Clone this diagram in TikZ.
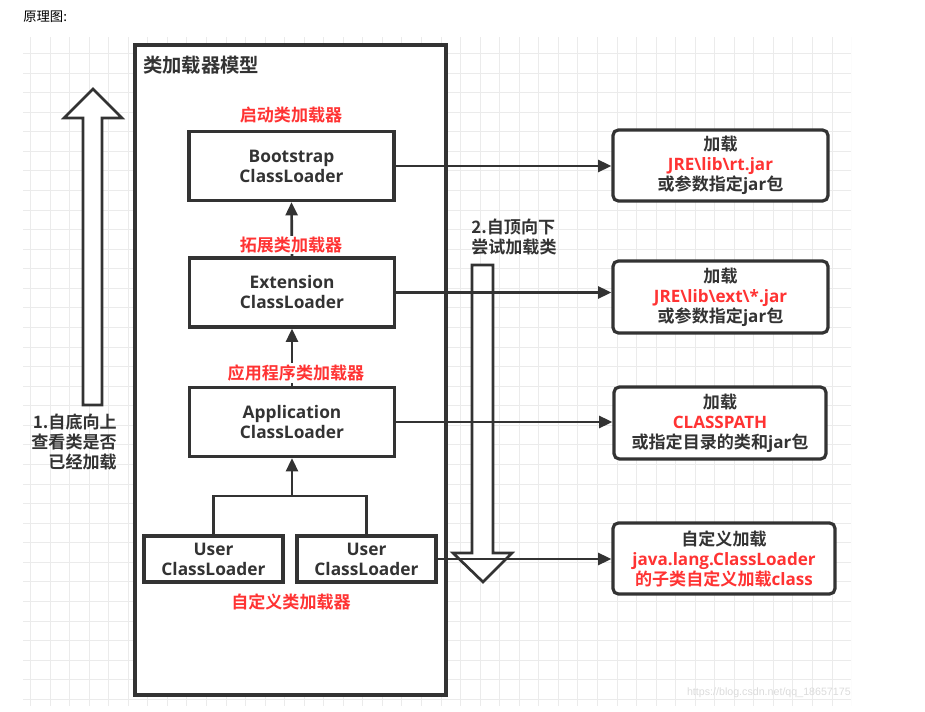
\documentclass[tikz,border=0pt]{standalone}
\usepackage{fontspec}
\usepackage{tikz}
\usetikzlibrary{arrows.meta}
\setmainfont{Open Sans}
\newfontfamily\cjk{Noto Sans CJK SC}[BoldFont={Noto Sans CJK SC Bold}]
\newfontfamily\wmfont{Liberation Sans}
\definecolor{dk}{HTML}{333333}
\definecolor{rd}{HTML}{FF3333}
\definecolor{gridc}{HTML}{EBEBEB}
\def\px{0.75pt}

\begin{document}
\begin{tikzpicture}[x=0.75pt,y=-0.75pt,
	loader/.style={draw=dk,line width=2.4pt,fill=white,text=dk,align=center,inner sep=0pt,
		minimum width=205*\px,minimum height=69*\px,font=\fontsize{13}{15}\selectfont\bfseries},
	jarbox/.style={draw=dk,line width=2.4pt,fill=white,rounded corners=4pt,text=dk,align=center,
		inner sep=0pt,minimum width=215*\px,minimum height=71*\px,font=\fontsize{12.8}{15}\selectfont\bfseries},
	tag/.style={text=rd,fill=white,inner sep=1pt,font=\fontsize{12.8}{15}\selectfont\bfseries\cjk},
	note/.style={text=dk,inner sep=0pt,font=\fontsize{12.8}{15}\selectfont\bfseries\cjk},
	link/.style={draw=dk,line width=2pt,-{Triangle[length=10pt,width=9pt]}},
	tie/.style={draw=dk,line width=2pt},
	hollow/.style={draw=dk,line width=2pt,fill=white,line join=miter}]
	\useasboundingbox (0,0) rectangle (925,712);
	
	%GRID
	\begin{scope}
		\clip (23,37) rectangle (851,706);
		\foreach \i in {0,...,42}
			\draw[gridc,line width=0.75pt] (30.5+19.55*\i,37)--++(0,669);
		\foreach \j in {0,...,33}
			\draw[gridc,line width=0.75pt] (23,53.5+19.57*\j)--++(828,0);
	\end{scope}
	\node[anchor=west,inner sep=0pt,font=\fontsize{10}{12}\selectfont\cjk] (caption) at (23,17) {原理图:};
	\node[anchor=east,inner sep=0pt,text=black!14,font=\wmfont\fontsize{8}{10}\selectfont] (mark) at (851,693) {https://blog.csdn.net/qq\_18657175};
	
	%MODEL BOX
	\node[draw=dk,line width=2.4pt,fill=white,inner sep=0pt,minimum width=311*\px,minimum height=650*\px] (model) at (290.5,370) {};
	\node[anchor=west,inner sep=0pt,text=dk,font=\fontsize{14.5}{17}\selectfont\bfseries\cjk] (title) at (143,65) {类加载器模型};
	
	%HOLLOW ARROWS
	\draw[hollow] (83,405)--(83,118)--(64,118)--(93,89)--(122,118)--(102,118)--(102,405)--cycle; %up
	\draw[hollow] (472,265)--(472,553)--(453,553)--(483,582)--(512,553)--(493,553)--(493,265)--cycle; %down
	\node[note,align=right,anchor=east] (upnote) at (117,442) {1.自底向上\\查看类是否\\已经加载};
	\node[note,align=left,anchor=west] (downnote) at (471,237) {2.自顶向下\\尝试加载类};
	
	%LOADERS
	\node[loader] (boot) at (291.5,166) {Bootstrap\\ClassLoader};
	\node[loader] (ext) at (292,292.5) {Extension\\ClassLoader};
	\node[loader] (app) at (292,422) {Application\\ClassLoader};
	\node[loader,minimum width=139*\px,minimum height=46*\px] (user1) at (213.5,559) {User\\ClassLoader};
	\node[loader,minimum width=139*\px,minimum height=46*\px] (user2) at (366.5,559) {User\\ClassLoader};
	
	\coordinate (fork) at (292,496);
	\draw[tie] (user1.north) |- (fork) -| (user2.north);
	\draw[link] (fork) -- (app.south);
	\draw[link] (app.north) -- (ext.south);
	\draw[link] (ext.north) -- (boot.south);
	
	\node[tag] (boottag) at (291,115) {启动类加载器};
	\node[tag] (exttag) at (291,245) {拓展类加载器};
	\node[tag] (apptag) at (296,373) {应用程序类加载器};
	\node[tag] (usertag) at (291,602) {自定义类加载器};
	
	%JAR BOXES
	\node[jarbox] (jar1) at (720.5,165.5) {{\cjk 加载}\\{\color{rd}JRE\textbackslash lib\textbackslash rt.jar}\\{\cjk 或参数指定}jar{\cjk 包}};
	\node[jarbox,minimum height=72*\px] (jar2) at (720.5,297) {{\cjk 加载}\\{\color{rd}JRE\textbackslash lib\textbackslash ext\textbackslash *.jar}\\{\cjk 或参数指定}jar{\cjk 包}};
	\node[jarbox,minimum width=212*\px,minimum height=72*\px] (jar3) at (720,423) {{\cjk 加载}\\{\color{rd}CLASSPATH}\\{\cjk 或指定目录的类和}jar{\cjk 包}};
	\node[jarbox,minimum width=222*\px] (jar4) at (724,558.5) {{\cjk 自定义加载}\\{\color{rd}java.lang.ClassLoader}\\{\color{rd}{\cjk 的子类自定义加载}class}};
	
	\draw[link] (boot.east) -- (boot.east -| jar1.west);
	\draw[link] (ext.east) -- (ext.east -| jar2.west);
	\draw[link] (app.east) -- (app.east -| jar3.west);
	\draw[link] (user2.east) -- (user2.east -| jar4.west);
\end{tikzpicture}
\end{document}
